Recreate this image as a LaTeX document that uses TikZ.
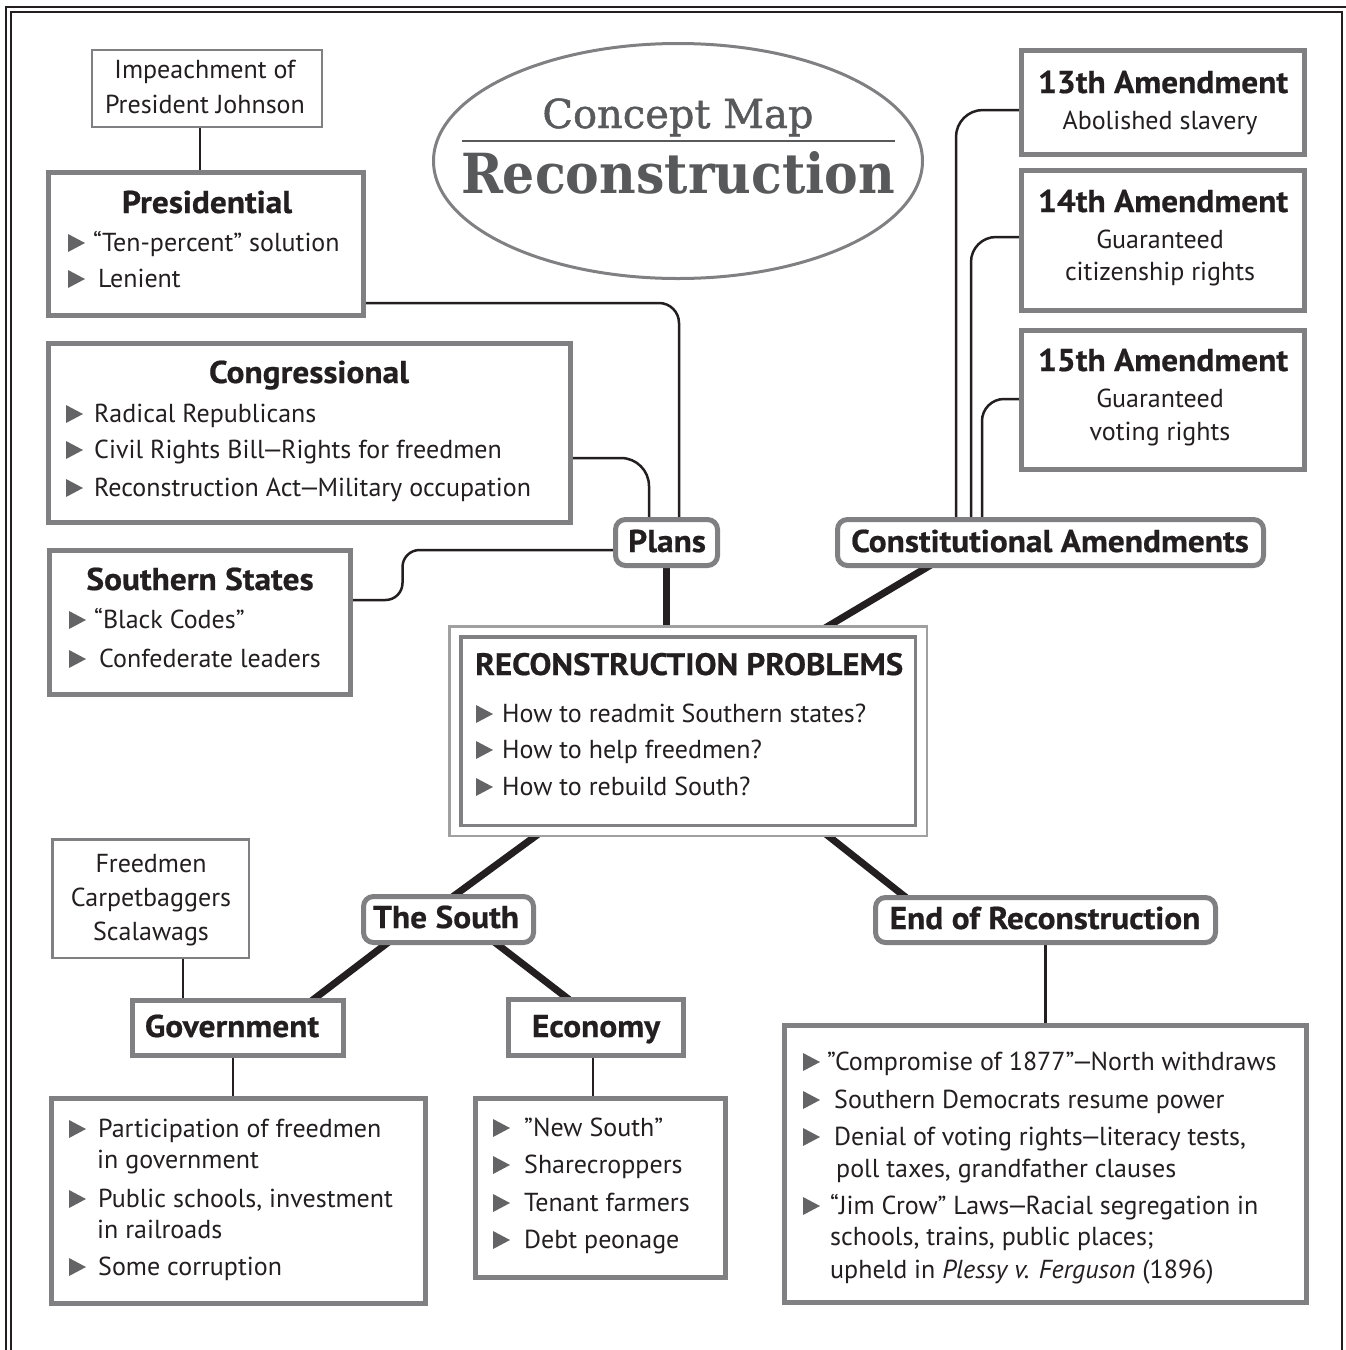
\documentclass[tikz,border=0pt]{standalone}
\usepackage{fontspec}
\setmainfont{PT Sans}[BoldFeatures={FakeStretch=1.06,FakeBold=0.6}]
\newfontfamily\slab{DejaVu Serif}
\newfontfamily\slabm{DejaVu Serif}[FakeBold=1.2]
\usetikzlibrary{shapes.geometric,calc}
\pgfdeclarelayer{paper}
\pgfdeclarelayer{bg}
\pgfsetlayers{paper,bg,main}
\definecolor{boxgray}{RGB}{128,128,130}
\definecolor{ink}{RGB}{35,31,32}
\definecolor{bulgray}{RGB}{100,100,102}
\definecolor{titlegray}{RGB}{88,89,91}
\newcommand\bodyfont{\fontsize{26}{31}\selectfont}
\newcommand\ttlfont{\fontsize{31.5}{36}\selectfont\bfseries}
\newcommand\emd{\kern-2.5pt—\kern-2.5pt}
\newcommand\mybox[6]{\node[#1, minimum width={#5-#3}, minimum height={#6-#4}] (#2) at ({(#3+#5)/2},{(#4+#6)/2}) {};}
\newcommand\bul[2]{\fill[bulgray] (#1,#2+1) -- (#1,#2-17) -- (#1+17,#2-8) -- cycle;}
\begin{document}
\begin{tikzpicture}[x=1pt,y=-1pt,
  box/.style={draw=boxgray, line width=5pt, fill=white, inner sep=0pt, outer sep=0pt},
  thinbox/.style={draw=boxgray, line width=2.5pt, fill=white, inner sep=0pt, outer sep=0pt},
  rbox/.style={box, rounded corners=10pt},
  txt/.style={inner sep=0pt, text=ink, font=\bodyfont},
  ttl/.style={inner sep=0pt, text=ink, font=\ttlfont},
  conn/.style={draw=ink, line width=2.5pt, shorten <=-3pt, shorten >=-3pt},
  tconn/.style={draw=ink, line width=7pt, shorten <=-5pt, shorten >=-5pt},
  frame/.style={draw=ink, line width=2.5pt}]
\useasboundingbox (0,0) rectangle (1346,1350);
\begin{pgfonlayer}{paper}
\fill[white] (0,0) rectangle (1346,1350);
\end{pgfonlayer}
% frame
\draw[frame] (6,1350) -- (6,7) -- (1346,7);
\draw[frame] (11,1350) -- (11,12) -- (1342,12) -- (1342,1350);

% title ellipse
\node[draw=boxgray, line width=3pt, ellipse, fill=white, minimum width=489, minimum height=235, inner sep=0pt] (title) at (678,161) {};
\node[anchor=base, inner sep=0pt, text=titlegray] (cm) at (678,128) {\resizebox{271pt}{!}{\slabm Concept Map}};
\draw[titlegray, line width=2pt] ($(title.center)+(-216,-20)$) -- ($(title.center)+(217,-20)$);
\node[anchor=base, inner sep=0pt, text=titlegray] (rc) at (678,193) {\resizebox{434pt}{42pt}{\slab\bfseries Reconstruction}};

% boxes
\mybox{thinbox}{imp}{92}{50}{322}{127}
\mybox{box}{pres}{48.5}{172.5}{363.5}{315.5}
\mybox{box}{cong}{48.5}{343.5}{570.5}{522.5}
\mybox{box}{south}{49.5}{550.5}{350.5}{694.5}
\mybox{rbox}{plans}{615.5}{519.5}{717.5}{565.5}
\mybox{rbox}{ca}{837.5}{519.5}{1263.5}{565.5}
\mybox{box}{a13}{1021.5}{50.5}{1304.5}{154.5}
\mybox{box}{a14}{1021.5}{170.5}{1304.5}{310.5}
\mybox{box}{a15}{1021.5}{330.5}{1304.5}{469.5}
\node[draw=boxgray!75, line width=2.5pt, fill=white, inner sep=0pt, outer sep=0pt, minimum width=477.5, minimum height=209.5] (rp) at (688,731) {};
\node[draw=boxgray, line width=3.5pt, fill=white, inner sep=0pt, outer sep=0pt, minimum width=454.5, minimum height=188.5] (rpin) at (688,731) {};
\mybox{rbox}{thesouth}{363.5}{896.5}{533.5}{942.5}
\mybox{rbox}{eor}{875.5}{897.5}{1215.5}{942.5}
\mybox{thinbox}{freed}{52.25}{839.25}{248.75}{957.75}
\mybox{box}{gov}{132.5}{1000.5}{343.5}{1055.5}
\mybox{box}{econ}{508.5}{999.5}{683.5}{1055.5}
\mybox{box}{govl}{51.5}{1098.5}{425.5}{1303.5}
\mybox{box}{econl}{475.5}{1098.5}{725.5}{1277.5}
\mybox{box}{eorl}{784.5}{1025.5}{1306.5}{1302.5}

% connectors
\begin{pgfonlayer}{bg}
\draw[conn] ([xshift=-7pt]imp.south) -- ([xshift=-6pt]pres.north);
\draw[conn, rounded corners=20pt] ([yshift=-59pt]pres.east) -| ([xshift=12.5pt]plans.north);
\draw[conn, rounded corners=28pt] ([yshift=-25pt]cong.east) -| ([xshift=-17.5pt]plans.north);
\draw[conn, rounded corners=17pt] ([yshift=22.5pt]south.east) -- ++(52,0) |- ([yshift=-7.5pt]plans.west);
\draw[conn, rounded corners=27pt] ([yshift=-7.5pt]a13.west) -| ([xshift=-94.5pt]ca.north);
\draw[conn, rounded corners=25pt] ([yshift=3.5pt]a14.west) -| ([xshift=-79.5pt]ca.north);
\draw[conn, rounded corners=22pt] ([yshift=1pt]a15.west) -| ([xshift=-68.5pt]ca.north);
\draw[conn] (eor.south) -- (eorl.north);
\draw[conn] ([xshift=-5pt]gov.south) -- ([xshift=-5.5pt]govl.north);
\draw[conn] ([xshift=32.5pt]freed.south) -- ([xshift=-55pt]gov.north);
\draw[conn] ([xshift=-3pt]econ.south) -- ([xshift=-7.5pt]econl.north);
\draw[tconn] (plans.south) -- (plans.south |- rp.north);
\draw[tconn] ([xshift=-120.5pt]ca.south) -- ([xshift=140pt]rp.north);
\draw[tconn] ([xshift=-152pt]rp.south) -- ([xshift=4.5pt]thesouth.north);
\draw[tconn] ([xshift=140pt]rp.south) -- ([xshift=-139.5pt]eor.north);
\draw[tconn] ([xshift=-60.5pt]thesouth.south) -- ([xshift=74pt]gov.north);
\draw[tconn] ([xshift=46.5pt]thesouth.south) -- ([xshift=-27pt]econ.north);
\end{pgfonlayer}

% texts
\node[txt, anchor=base] (imp1) at (205,78) {Impeachment of};
\node[txt, anchor=base] (imp2) at (205,113) {President Johnson};

\node[ttl, anchor=base] (prest) at (207,213) {Presidential};
\bul{68}{251}\node[txt, anchor=base west] (pres1) at (93,251) {“Ten-percent” solution};
\bul{68}{287}\node[txt, anchor=base west] (pres2) at (98,287) {Lenient};

\node[ttl, anchor=base] (congt) at (309,383) {Congressional};
\bul{66}{422}\node[txt, anchor=base west] (cong1) at (94,422) {Radical Republicans};
\bul{66}{458}\node[txt, anchor=base west] (cong2) at (94,458) {Civil Rights Bill\emd Rights for freedmen};
\bul{66}{496}\node[txt, anchor=base west] (cong3) at (94,496) {Reconstruction Act\emd Military occupation};

\node[ttl, anchor=base] (southt) at (200,590) {Southern States};
\bul{69}{628}\node[txt, anchor=base west] (south1) at (94,628) {“Black Codes”};
\bul{69}{667}\node[txt, anchor=base west] (south2) at (99,667) {Confederate leaders};

\node[ttl, anchor=base] (planst) at (667,552) {Plans};
\node[ttl, anchor=base] (cat) at (1050,552) {Constitutional Amendments};

\node[ttl, anchor=base] (a13t) at (1163,93) {13th Amendment};
\node[txt, anchor=base] (a13a) at (1160,129) {Abolished slavery};
\node[ttl, anchor=base] (a14t) at (1163,212) {14th Amendment};
\node[txt, anchor=base] (a14a) at (1160,248) {Guaranteed};
\node[txt, anchor=base] (a14b) at (1160,280) {citizenship rights};
\node[ttl, anchor=base] (a15t) at (1163,371) {15th Amendment};
\node[txt, anchor=base] (a15a) at (1160,407) {Guaranteed};
\node[txt, anchor=base] (a15b) at (1160,440) {voting rights};

\node[ttl, anchor=base west] (rpt) at (475,675) {\resizebox{428pt}{!}{RECONSTRUCTION PROBLEMS}};
\bul{476}{722}\node[txt, anchor=base west] (rp1) at (502,722) {How to readmit Southern states?};
\bul{476}{758}\node[txt, anchor=base west] (rp2) at (502,758) {How to help freedmen?};
\bul{476}{795}\node[txt, anchor=base west] (rp3) at (502,795) {How to rebuild South?};

\node[ttl, anchor=base] (thesoutht) at (446,928) {The South};
\node[ttl, anchor=base] (eort) at (1045,929) {End of Reconstruction};
\node[ttl, anchor=base] (govt) at (232,1037) {Government};
\node[ttl, anchor=base] (econt) at (596,1037) {Economy};

\node[txt, anchor=base] (fr1) at (151,872) {Freedmen};
\node[txt, anchor=base] (fr2) at (151,906) {Carpetbaggers};
\node[txt, anchor=base] (fr3) at (151,940) {Scalawags};

\bul{69}{1137}\node[txt, anchor=base west] (gl1) at (98,1137) {Participation of freedmen};
\node[txt, anchor=base west] (gl2) at (97,1168) {in government};
\bul{69}{1207}\node[txt, anchor=base west] (gl3) at (98,1207) {Public schools, investment};
\node[txt, anchor=base west] (gl4) at (97,1238) {in railroads};
\bul{69}{1275}\node[txt, anchor=base west] (gl5) at (98,1275) {Some corruption};

\bul{493}{1136}\node[txt, anchor=base west] (el1) at (524,1136) {”New South”};
\bul{493}{1173}\node[txt, anchor=base west] (el2) at (524,1173) {Sharecroppers};
\bul{493}{1211}\node[txt, anchor=base west] (el3) at (524,1211) {Tenant farmers};
\bul{493}{1248}\node[txt, anchor=base west] (el4) at (524,1248) {Debt peonage};

\bul{803}{1070}\node[txt, anchor=base west] (rl1) at (827,1070) {”Compromise of 1877”\emd North withdraws};
\bul{803}{1108}\node[txt, anchor=base west] (rl2) at (834,1108) {Southern Democrats resume power};
\bul{803}{1145}\node[txt, anchor=base west] (rl3) at (834,1145) {Denial of voting rights\emd literacy tests,};
\node[txt, anchor=base west] (rl4) at (836,1177) {poll taxes, grandfather clauses};
\bul{803}{1214}\node[txt, anchor=base west] (rl5) at (830,1214) {“Jim Crow” Laws\emd Racial segregation in};
\node[txt, anchor=base west] (rl6) at (830,1245) {schools, trains, public places;};
\node[txt, anchor=base west] (rl7) at (830,1278) {upheld in \textit{Plessy v. Ferguson} (1896)};
\end{tikzpicture}
\end{document}
